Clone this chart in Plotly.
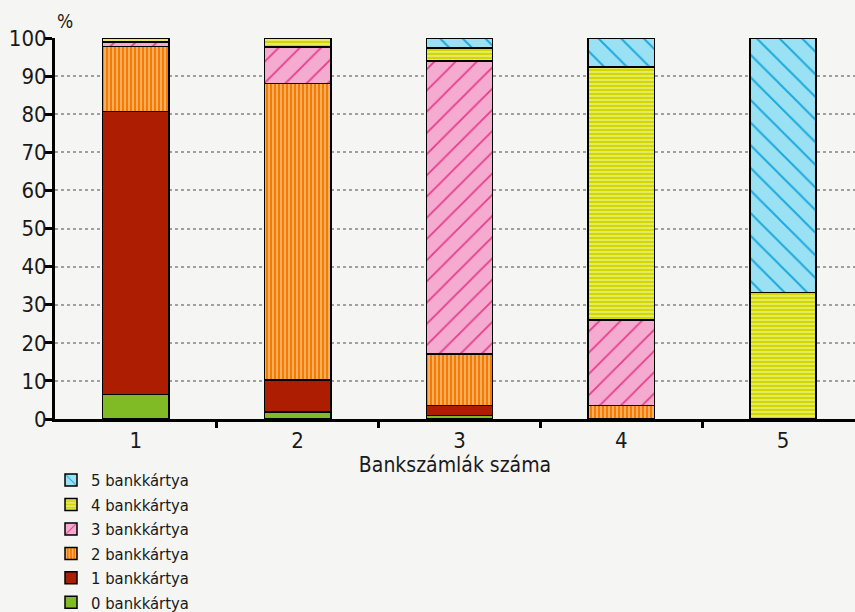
import plotly.graph_objects as go

bank_accounts = [1, 2, 3, 4, 5]
tick_labels = ["1", "2", "3", "4", "5"]

# share of respondents (%) by number of bank cards, per number of bank accounts
cards_0 = [6.4, 1.9, 0.9, 0, 0]
cards_1 = [74.3, 8.3, 2.6, 0, 0]
cards_2 = [17.1, 77.9, 13.6, 3.5, 0]
cards_3 = [1.1, 9.6, 76.9, 22.5, 0]
cards_4 = [1.1, 2.3, 3.4, 66.4, 33.2]
cards_5 = [0, 0, 2.6, 7.6, 66.8]

series = [
    ("0 bankkártya", cards_0, "#80bb26", None),
    ("1 bankkártya", cards_1, "#ad1d02", None),
    ("2 bankkártya", cards_2, "#f47b00", dict(shape="|", fgcolor="#fcc48c", size=4, solidity=0.35)),
    ("3 bankkártya", cards_3, "#f5aacf", dict(shape="/", fgcolor="#e63e8c", size=15, solidity=0.12)),
    ("4 bankkártya", cards_4, "#d1d800", dict(shape="-", fgcolor="#eef28a", size=4, solidity=0.35)),
    ("5 bankkártya", cards_5, "#9be1f4", dict(shape="\\", fgcolor="#1ba9dc", size=16, solidity=0.12)),
]

font = "DejaVu Sans Condensed"
bg = "#f5f5f3"

fig = go.Figure()
for name, vals, color, pattern in series:
    marker = dict(color=color, line=dict(color="black", width=1.5))
    if pattern:
        marker["pattern"] = dict(bgcolor=color, fillmode="replace", **pattern)
    fig.add_trace(go.Bar(
        x=bank_accounts,
        y=[v if v > 0 else None for v in vals],
        name=name,
        width=0.41,
        marker=marker,
    ))

fig.update_layout(
    width=855,
    height=612,
    barmode="stack",
    paper_bgcolor=bg,
    plot_bgcolor=bg,
    margin=dict(l=55, r=0, t=38, b=193, autoexpand=False),
    font=dict(family=font, size=21, color="#1a1a1a"),
    showlegend=True,
    legend=dict(
        traceorder="reversed",
        orientation="v",
        x=-0.005, xanchor="left",
        y=-0.115, yanchor="top",
        bgcolor="rgba(0,0,0,0)",
        font=dict(size=16.5),
        itemwidth=30,
        tracegroupgap=0,
    ),
    xaxis=dict(
        range=[0.5, 5.445],
        tickvals=bank_accounts,
        ticktext=tick_labels,
        tickfont=dict(size=22),
        ticks="",
        showgrid=False,
        zeroline=False,
        showline=True,
        linecolor="black",
        linewidth=3,
        minor=dict(tickvals=[1.5, 2.5, 3.5, 4.5], ticks="outside", ticklen=6,
                   tickwidth=3, tickcolor="black", showgrid=False),
        title=dict(text="Bankszámlák száma", font=dict(size=21), standoff=0),
    ),
    yaxis=dict(
        range=[0, 100],
        tickvals=list(range(0, 101, 10)),
        tickfont=dict(size=22),
        ticks="outside",
        ticklen=7,
        tickwidth=3,
        tickcolor="black",
        ticklabelstandoff=-6,
        showline=True,
        linecolor="black",
        linewidth=3,
        showgrid=True,
        gridcolor="#a0a0a0",
        griddash="dot",
        gridwidth=1.5,
        zeroline=False,
    ),
    annotations=[dict(
        text="%", xref="paper", yref="paper", x=0.0, y=1.0,
        xanchor="left", yanchor="bottom", yshift=4, showarrow=False,
        font=dict(size=19),
    )],
)

fig.write_html(
    "out.html",
    config={"displayModeBar": False},
    post_script=f"document.body.style.margin='0';document.body.style.background='{bg}';",
)
